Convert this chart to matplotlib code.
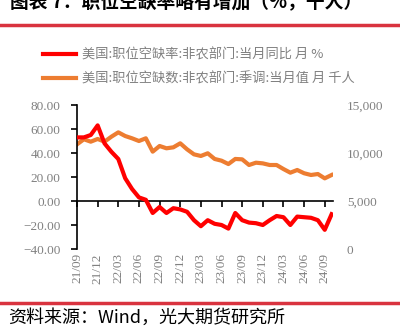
import matplotlib
matplotlib.use("Agg")
import matplotlib.pyplot as plt
from matplotlib.lines import Line2D

plt.rcParams['font.family'] = ['Noto Sans CJK SC', 'DejaVu Sans']

# month labels, 2021/09 .. 2024/10
months = ['21/09', '21/10', '21/11', '21/12', '22/01', '22/02', '22/03', '22/04', '22/05', '22/06',
          '22/07', '22/08', '22/09', '22/10', '22/11', '22/12', '23/01', '23/02', '23/03', '23/04',
          '23/05', '23/06', '23/07', '23/08', '23/09', '23/10', '23/11', '23/12', '24/01', '24/02',
          '24/03', '24/04', '24/05', '24/06', '24/07', '24/08', '24/09', '24/10']

# 职位空缺率 同比 %
rate_yoy = [53, 53, 55, 63, 48, 41, 35, 19, 10, 3,
            1, -10, -5, -10, -6, -7, -9, -16, -21, -16,
            -19, -20, -23, -10, -16, -18, -18.5, -20, -16, -12.5,
            -13.5, -20, -13, -13.5, -14, -16, -24, -11]

# 职位空缺数 千人
openings = [10900, 11430, 11180, 11460, 11180, 11700, 12150, 11770, 11530, 11250,
            11530, 10140, 10730, 10490, 10590, 11010, 10380, 9860, 9690, 9970,
            9380, 9200, 8850, 9380, 9340, 8750, 8990, 8920, 8750, 8750,
            8330, 7950, 8230, 7890, 7710, 7810, 7360, 7710]

label_red = '美国:职位空缺率:非农部门:当月同比 月 %'
label_org = '美国:职位空缺数:非农部门:季调:当月值 月 千人'

red = '#ff0000'
orange = '#ed7d31'
gray = '#808080'
serif = ['Liberation Serif', 'DejaVu Serif']

fig = plt.figure(figsize=(4.0, 3.27), dpi=100)
ax = fig.add_axes([77 / 400, 1 - 249 / 327, (333 - 77) / 400, (249 - 105) / 327])
ax2 = ax.twinx()

x = list(range(len(months)))
ax.plot(x, rate_yoy, color=red, lw=3, zorder=3)
ax2.plot(x, openings, color=orange, lw=3, zorder=2)
ax.set_zorder(ax2.get_zorder() + 1)
ax.patch.set_visible(False)

ax.set_xlim(0, len(months) - 0.8)
ax.set_ylim(-40, 80)
ax2.set_ylim(0, 15000)
ax.set_yticks([-40, -20, 0, 20, 40, 60, 80])
ax.set_yticklabels(['{:.2f}'.format(v).replace('-', '−') for v in [-40, -20, 0, 20, 40, 60, 80]],
                   fontfamily=serif, fontsize=9.5, color=gray)
ax2.set_yticks([0, 5000, 10000, 15000])
ax2.set_yticklabels(['0', '5,000', '10,000', '15,000'], fontfamily=serif, fontsize=9.5, color=gray)

for s in ['top', 'right']:
    ax.spines[s].set_visible(False)
for s in ['top', 'right', 'left', 'bottom']:
    ax2.spines[s].set_visible(False)
ax2.tick_params(axis='y', length=0, pad=10)
ax.spines['left'].set_linewidth(1.2)
ax.spines['bottom'].set_position(('data', 0))
ax.spines['bottom'].set_linewidth(1.2)
ax.tick_params(axis='y', direction='out', length=4, width=1.2, pad=8)

tick_idx = list(range(0, len(months), 3))
ax.set_xticks(tick_idx)
ax.tick_params(axis='x', direction='out', length=4, width=1.2, labelbottom=False)

sec = ax.secondary_xaxis(0)
sec.set_xticks(tick_idx)
sec.set_xticklabels([months[i] for i in tick_idx], rotation=90, fontfamily=serif,
                    fontsize=9.5, color=gray)
sec.spines['bottom'].set_visible(False)
sec.tick_params(axis='x', length=0, pad=3)

handles = [Line2D([], [], color=red, lw=3), Line2D([], [], color=orange, lw=3)]
fig.legend(handles, [label_red, label_org], loc='upper left', bbox_to_anchor=(38 / 400, 1 - 43 / 327),
           frameon=False, fontsize=9.5, labelcolor=gray, handlelength=2.5, handletextpad=0.4,
           labelspacing=0.85, borderaxespad=0)

fig.text(0.025, 1 - 3 / 327, '图表 7：职位空缺率略有增加（%，千人）', fontsize=13.5,
         fontweight='bold', va='center', ha='left')
fig.add_artist(Line2D([0, 1], [1 - 25 / 327, 1 - 25 / 327], color='#d9333f', lw=2.5))
fig.add_artist(Line2D([0, 1], [1 - 303 / 327, 1 - 303 / 327], color='#d9333f', lw=2.5))
fig.text(0.02, 1 - 318 / 327, '资料来源：Wind，光大期货研究所', fontsize=13, va='center', ha='left')

fig.savefig('out.png', dpi=100)
